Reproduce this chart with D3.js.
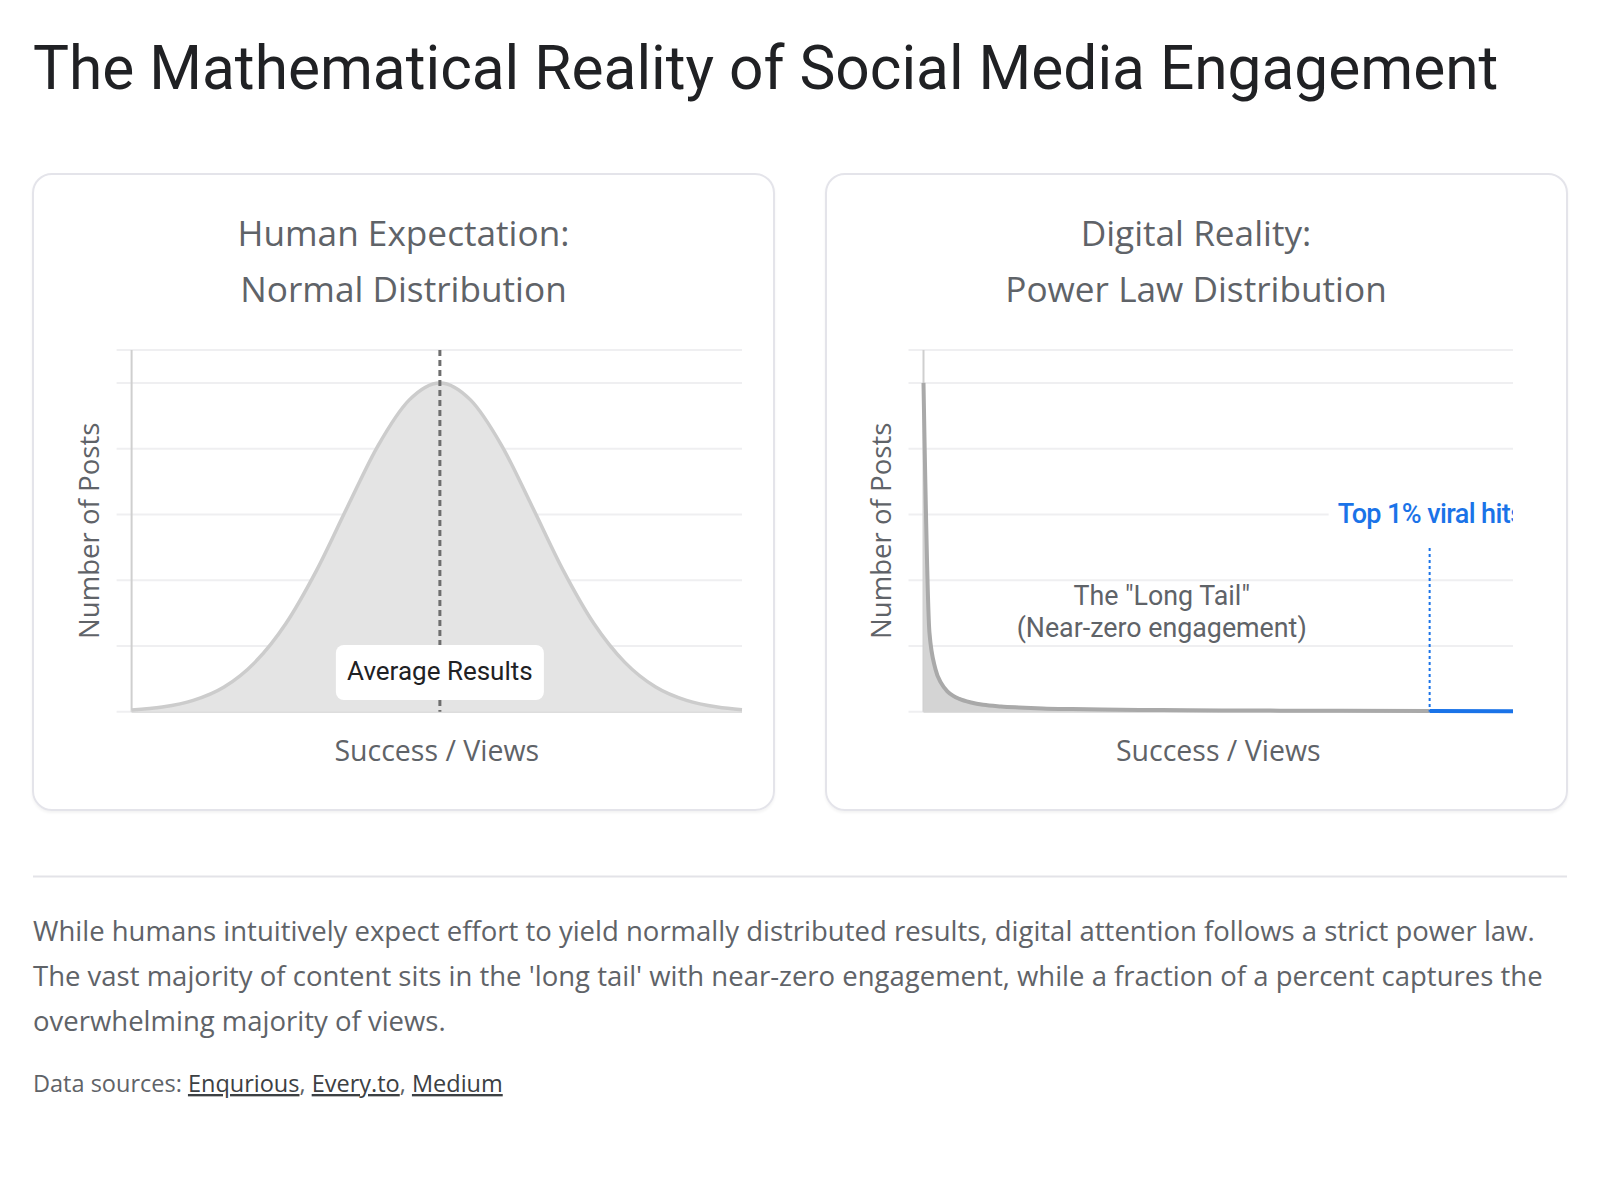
<!DOCTYPE html>
<html>
<head>
<meta charset="utf-8">
<script src="https://cdn.jsdelivr.net/npm/d3@7"></script>
<style>
  body { margin: 0; background: #fff; }
  #page { position: relative; width: 1600px; height: 1200px; overflow: hidden; }
  .card {
    position: absolute; top: 173px; width: 739px; height: 634px;
    border: 2px solid #e4e4ea; border-radius: 20px;
    box-shadow: 0 2px 3px rgba(0,0,0,0.05);
  }
  svg { position: absolute; left: 0; top: 0; }
  text { font-family: "Open Sans", "Noto Sans", sans-serif; }
  .rob { font-family: Roboto, "Noto Sans", sans-serif; }
</style>
</head>
<body>
<div id="page">
  <div class="card" style="left:32px"></div>
  <div class="card" style="left:825px"></div>
  <svg id="chart" width="1600" height="1200"></svg>
</div>
<script>
// ---- data ----
// normal curve: x index 0..99, mean at 50
const normalX = [0, 5, 10, 15, 20, 25, 30, 35, 40, 45, 50, 55, 60, 65, 70, 75, 80, 85, 90, 95, 99];
const normalY = [0.002, 0.0056, 0.0137, 0.030, 0.060, 0.107, 0.172, 0.249, 0.324, 0.379, 0.400,
                 0.379, 0.324, 0.249, 0.172, 0.107, 0.060, 0.030, 0.0137, 0.0056, 0.0025];
const normalGrid = [0, 0.08, 0.16, 0.24, 0.32, 0.40, 0.44];
const normalMean = 50;

// power law: x index 0..99, viral cut at 85
const powerX = [0, 1, 2, 3, 4, 5, 6, 8, 10, 13, 16, 20, 25, 30, 40, 50, 60, 70, 85, 99];
const powerY = [100, 24, 13, 8.6, 6.2, 4.8, 3.9, 2.8, 2.1, 1.6, 1.3, 1.0, 0.8, 0.65, 0.5, 0.4, 0.32, 0.26, 0.2, 0.15];
const powerGrid = [0, 20, 40, 60, 80, 100, 110];
const viralCut = 85;

const titleText = "The Mathematical Reality of Social Media Engagement";
const leftTitle = ["Human Expectation:", "Normal Distribution"];
const rightTitle = ["Digital Reality:", "Power Law Distribution"];
const xLabel = "Success / Views";
const yLabel = "Number of Posts";
const paragraph = [
  "While humans intuitively expect effort to yield normally distributed results, digital attention follows a strict power law.",
  "The vast majority of content sits in the 'long tail' with near-zero engagement, while a fraction of a percent captures the",
  "overwhelming majority of views."
];
const sources = ["Enqurious", "Every.to", "Medium"];

const svg = d3.select("#chart");

// page title
svg.append("text").attr("class", "rob")
  .attr("x", 33).attr("y", 89)
  .attr("font-size", 60.4).attr("fill", "#202124")
  .text(titleText);

function drawPanel(cfg) {
  const g = svg.append("g");
  const x = d3.scaleLinear().domain([0, 99]).range([cfg.left, cfg.right]);
  const y = d3.scaleLinear().domain(cfg.yDomain).range([711.7, 350]);

  // titles
  cfg.title.forEach((t, i) => {
    g.append("text")
      .attr("x", cfg.cardCenter).attr("y", 246 + i * 56)
      .attr("text-anchor", "middle")
      .attr("font-size", 35.2).attr("fill", "#5f6368")
      .text(t);
  });

  // gridlines
  g.selectAll(".grid").data(cfg.grid).enter().append("line")
    .attr("x1", cfg.left - 15).attr("x2", cfg.right)
    .attr("y1", d => y(d)).attr("y2", d => y(d))
    .attr("stroke", "#efeff1").attr("stroke-width", 2);

  // axis borders
  g.append("line")
    .attr("x1", cfg.left).attr("x2", cfg.left)
    .attr("y1", y(cfg.yDomain[1])).attr("y2", y(0))
    .attr("stroke", "#cfcfcf").attr("stroke-width", 2);
  g.append("line")
    .attr("x1", cfg.left).attr("x2", cfg.right)
    .attr("y1", y(0)).attr("y2", y(0))
    .attr("stroke", "#d6d6d6").attr("stroke-width", 2);

  // axis titles
  g.append("text")
    .attr("transform", `translate(${cfg.left - 33},${(y(0) + y(cfg.yDomain[1])) / 2}) rotate(-90)`)
    .attr("text-anchor", "middle")
    .attr("font-size", 27.6).attr("fill", "#5f6368")
    .text(yLabel);
  g.append("text")
    .attr("x", (cfg.left + cfg.right) / 2).attr("y", 761)
    .attr("text-anchor", "middle")
    .attr("font-size", 28.5).attr("fill", "#5f6368")
    .text(xLabel);

  return { g, x, y };
}

// ---- left: normal ----
const L = drawPanel({
  left: 131.6, right: 742, cardCenter: 403.5,
  yDomain: [0, 0.44], grid: normalGrid, title: leftTitle
});
const normalPts = normalX.map((d, i) => [d, normalY[i]]);

L.g.append("path")
  .datum(normalPts)
  .attr("fill", "#e4e4e4")
  .attr("d", d3.area().x(d => L.x(d[0])).y0(L.y(0)).y1(d => L.y(d[1])).curve(d3.curveMonotoneX));
L.g.append("path")
  .datum(normalPts)
  .attr("fill", "none").attr("stroke", "#cccccc").attr("stroke-width", 3.5)
  .attr("d", d3.line().x(d => L.x(d[0])).y(d => L.y(d[1])).curve(d3.curveMonotoneX));

L.g.append("line")
  .attr("x1", L.x(normalMean)).attr("x2", L.x(normalMean))
  .attr("y1", L.y(0.44)).attr("y2", L.y(0))
  .attr("stroke", "#6e6e6e").attr("stroke-width", 3)
  .attr("stroke-dasharray", "6,4");

L.g.append("rect")
  .attr("x", L.x(normalMean) - 104).attr("y", 645)
  .attr("width", 208).attr("height", 55).attr("rx", 8)
  .attr("fill", "#fff");
L.g.append("text").attr("class", "rob")
  .attr("x", L.x(normalMean)).attr("y", 680)
  .attr("text-anchor", "middle")
  .attr("font-size", 26).attr("fill", "#202124")
  .text("Average Results");

// ---- right: power law ----
const R = drawPanel({
  left: 923.5, right: 1513, cardCenter: 1196,
  yDomain: [0, 110], grid: powerGrid, title: rightTitle
});
const powerPts = powerX.map((d, i) => [d, powerY[i]]);
const headPts = powerPts.filter(d => d[0] <= viralCut);
const tailPts = powerPts.filter(d => d[0] >= viralCut);

R.g.append("path")
  .datum(powerPts)
  .attr("fill", "#d4d4d4")
  .attr("d", d3.area().x(d => R.x(d[0])).y0(R.y(0)).y1(d => R.y(d[1])).curve(d3.curveMonotoneX));
R.g.append("path")
  .datum(headPts)
  .attr("fill", "none").attr("stroke", "#a9a9a9").attr("stroke-width", 4)
  .attr("d", d3.line().x(d => R.x(d[0])).y(d => R.y(d[1])).curve(d3.curveMonotoneX));
R.g.append("path")
  .datum(tailPts)
  .attr("fill", "none").attr("stroke", "#1a73e8").attr("stroke-width", 4)
  .attr("d", d3.line().x(d => R.x(d[0])).y(d => R.y(d[1])).curve(d3.curveMonotoneX));

R.g.append("line")
  .attr("x1", R.x(viralCut)).attr("x2", R.x(viralCut))
  .attr("y1", 548).attr("y2", R.y(0))
  .attr("stroke", "#1a73e8").attr("stroke-width", 2)
  .attr("stroke-dasharray", "3,3");

// viral label, clipped to plot area
svg.append("clipPath").attr("id", "plotClip")
  .append("rect").attr("x", 900).attr("y", 340).attr("width", 1513 - 900).attr("height", 380);
const lab = R.g.append("g").attr("clip-path", "url(#plotClip)");
lab.append("rect")
  .attr("x", R.x(viralCut) - 101).attr("y", 494)
  .attr("width", 260).attr("height", 38).attr("fill", "#fff");
lab.append("text").attr("class", "rob")
  .attr("x", R.x(viralCut) - 92).attr("y", 523)
  .attr("font-size", 27).attr("font-weight", 500)
  .attr("fill", "#1a73e8").attr("letter-spacing", -0.6)
  .text("Top 1% viral hits");

R.g.append("text").attr("class", "rob")
  .attr("text-anchor", "middle")
  .attr("font-size", 26.8).attr("fill", "#5f6368")
  .selectAll("tspan").data(['The "Long Tail"', "(Near-zero engagement)"]).enter()
  .append("tspan")
  .attr("x", R.x(40)).attr("y", (d, i) => 604.5 + i * 32)
  .text(d => d);

// ---- separator and notes ----
svg.append("line")
  .attr("x1", 33).attr("x2", 1567).attr("y1", 876.5).attr("y2", 876.5)
  .attr("stroke", "#e3e3e8").attr("stroke-width", 2);

svg.append("text")
  .attr("font-size", 27.5).attr("fill", "#5f6368")
  .selectAll("tspan").data(paragraph).enter()
  .append("tspan")
  .attr("x", 33).attr("y", (d, i) => 941 + i * 45)
  .text(d => d);

const src = svg.append("text")
  .attr("x", 33).attr("y", 1092)
  .attr("font-size", 23.5).attr("fill", "#5f6368");
src.append("tspan").text("Data sources: ");
sources.forEach((s, i) => {
  src.append("tspan").attr("fill", "#3c4043").attr("text-decoration", "underline").text(s);
  if (i < sources.length - 1) src.append("tspan").text(", ");
});
</script>
</body>
</html>
